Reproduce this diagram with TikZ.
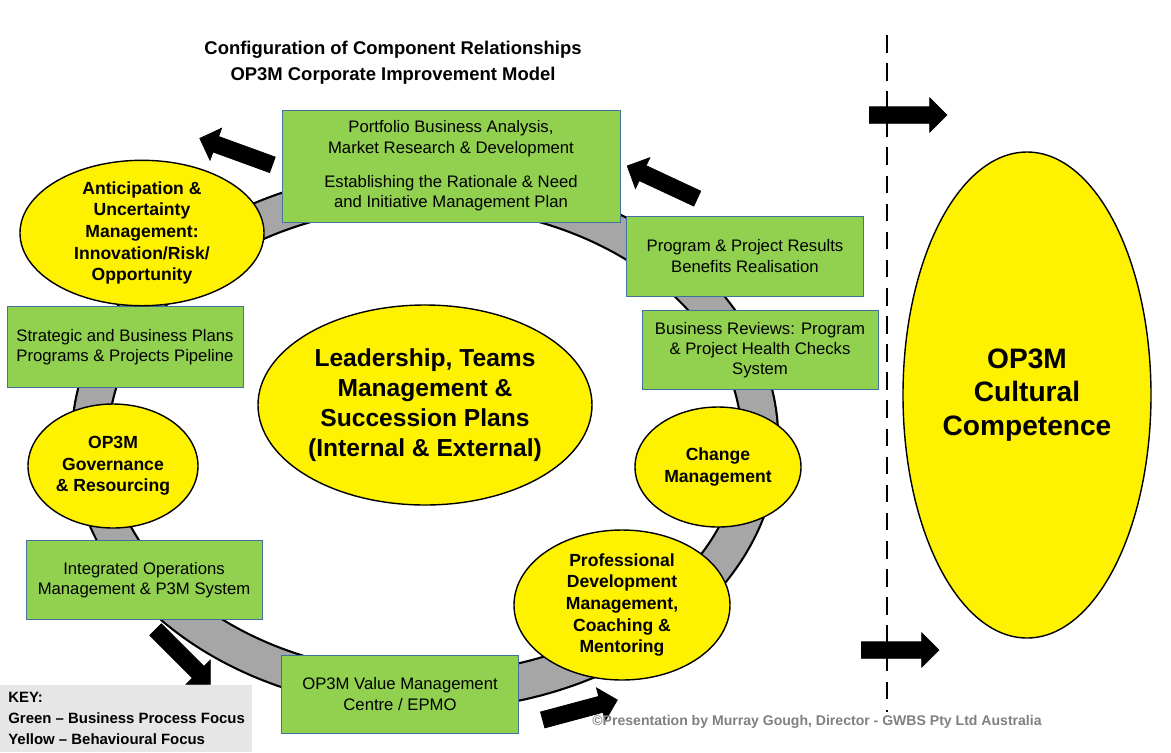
\documentclass[tikz,border=0pt]{standalone}
\usepackage{fontspec}
\setmainfont{Liberation Sans}
\usetikzlibrary{shapes.arrows, shapes.geometric, positioning}
\definecolor{procGreen}{HTML}{92D050}
\definecolor{boxEdge}{HTML}{41719C}
\definecolor{keyGray}{HTML}{E7E6E6}
\tikzset{
  process/.style={draw=boxEdge, fill=procGreen, align=center, inner sep=1pt, font=\fontsize{9.5}{11.5}\selectfont},
  behaviour/.style={draw=black, thick, fill=yellow, ellipse, align=center, inner sep=0pt, font=\bfseries\fontsize{10}{12.3}\selectfont},
  flow/.style={single arrow, fill=black, draw=black, minimum height=44pt, inner sep=4.5pt, single arrow head extend=5pt}
}
\begin{document}
\begin{tikzpicture}[x=0.02cm, y=-0.02cm]
	\useasboundingbox (0,0) rectangle (1171,752);

	% ring behind everything
	\draw[black, line width=22] (425,440) ellipse (335 and 252);
	\draw[gray!70, line width=19.5] (425,440) ellipse (335 and 252);

	\node[font=\bfseries\fontsize{10.5}{15}\selectfont, align=center] (title) at (393,63) {Configuration of Component Relationships\\OP3M Corporate Improvement Model};

	% green boxes
	\node[process, minimum width=338*0.02cm, minimum height=112*0.02cm] (portfolio) at (451,166) {Portfolio Business Analysis,\\Market Research \& Development\\[8pt]Establishing the Rationale \& Need\\and Initiative Management Plan};
	\node[process, minimum width=237*0.02cm, minimum height=80*0.02cm] (results) at (745,256) {Program \& Project Results\\Benefits Realisation};
	\node[process, minimum width=236*0.02cm, minimum height=79*0.02cm] (reviews) at (760,350) {Business Reviews: Program\\\& Project Health Checks\\System};
	\node[process, minimum width=236*0.02cm, minimum height=81*0.02cm] (strategic) at (125,347) {Strategic and Business Plans\\Programs \& Projects Pipeline};
	\node[process, minimum width=236*0.02cm, minimum height=79*0.02cm] (integrated) at (144,580) {Integrated Operations\\Management \& P3M System};
	\node[process, minimum width=237*0.02cm, minimum height=78*0.02cm] (value) at (400,694) {OP3M Value Management\\Centre / EPMO};

	% yellow ellipses
	\node[behaviour, minimum width=244*0.02cm, minimum height=124*0.02cm] (anticipation) at (142,233) {Anticipation \&\\Uncertainty\\Management:\\Innovation/Risk/\\Opportunity};
	\node[behaviour, minimum width=170*0.02cm, minimum height=124*0.02cm] (governance) at (113,466) {OP3M\\Governance\\\& Resourcing};
	\node[behaviour, minimum width=166*0.02cm, minimum height=120*0.02cm] (change) at (718,467) {Change\\Management};
	\node[behaviour, minimum width=216*0.02cm, minimum height=150*0.02cm] (professional) at (622,605) {Professional\\Development\\Management,\\Coaching \&\\Mentoring};
	\node[behaviour, minimum width=334*0.02cm, minimum height=200*0.02cm, font=\bfseries\fontsize{14}{17}\selectfont] (leadership) at (425,405) {Leadership, Teams\\Management \&\\Succession Plans\\(Internal \& External)};
	\node[behaviour, minimum width=248*0.02cm, minimum height=486*0.02cm, font=\bfseries\fontsize{16}{19}\selectfont] (culture) at (1027,395) {OP3M\\Cultural\\Competence};

	% divider
	\draw[very thick, dash pattern=on 10pt off 6pt] (887,35) coordinate (divtop) -- (887,712) coordinate (divbot);

	% block arrows
	\node[flow] (inTop) at (904,115) {};
	\node[flow] (inBot) at (896,650) {};
	\node[flow, rotate=155] (toPortfolio) at (666,184) {};
	\node[flow, rotate=160] (toAnticipation) at (240,153) {};
	\node[flow, rotate=-45] (toValue) at (180,654) {};
	\node[flow, rotate=15] (toProfessional) at (576,711) {};

	% key and credit
	\fill[keyGray] (0,685) rectangle (252,752);
	\node[anchor=north west, align=left, font=\bfseries\fontsize{8.5}{12}\selectfont, inner sep=0pt] (key) at (8,692) {KEY:\\Green -- Business Process Focus\\Yellow -- Behavioural Focus};
	\node[anchor=west, text=gray, font=\bfseries\fontsize{8}{10}\selectfont, inner sep=0pt] (credit) at (592,722) {\textcopyright Presentation by Murray Gough, Director - GWBS Pty Ltd Australia};

\end{tikzpicture}
\end{document}
